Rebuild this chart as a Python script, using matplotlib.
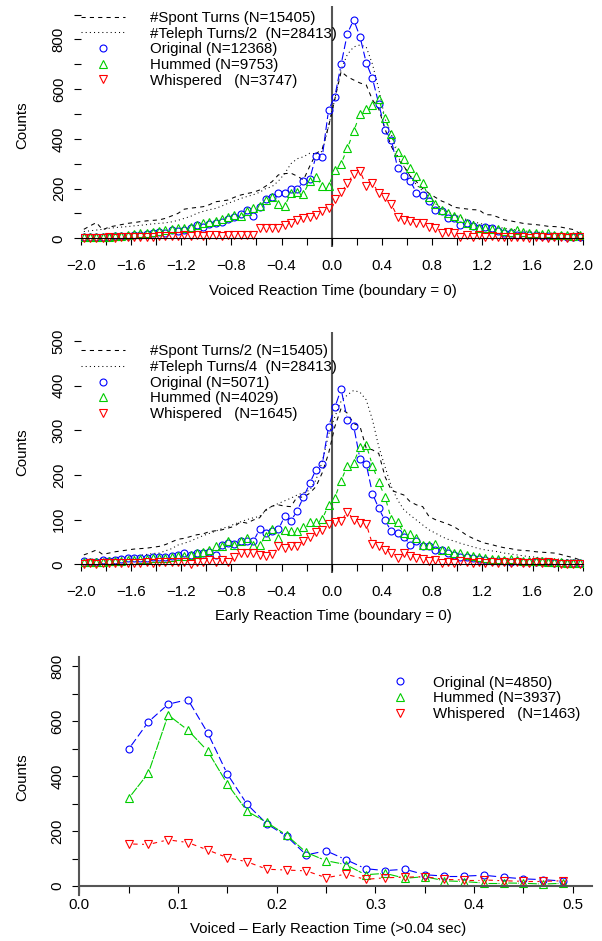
import numpy as np
import matplotlib
matplotlib.use('Agg')
from matplotlib import pyplot
from matplotlib.collections import LineCollection
from matplotlib.lines import Line2D

pyplot.rcParams['font.family'] = ['Liberation Sans', 'DejaVu Sans']
pyplot.rcParams['font.size'] = 10.8

FIG_W, FIG_H = 602, 941
BLUE, GREEN, RED, GREY = '#0000ff', '#00cd00', '#ff0000', '#555555'

# histogram bin centres (s), bins are 0.05 s wide
rt_bins = np.round(np.arange(-1.975, 2.0, 0.05), 3)

# top panel: voiced reaction time
voiced_spont = [36, 50, 63, 34, 45, 50, 55, 60, 63, 67,
                70, 72, 74, 80, 90, 100, 117, 121, 124, 127,
                135, 147, 150, 154, 165, 174, 180, 185, 194, 210,
                228, 255, 260, 262, 250, 235, 290, 340, 360, 450,
                560, 671, 650, 637, 625, 617, 557, 520, 440, 370,
                320, 290, 250, 228, 200, 181, 165, 150, 140, 125,
                121, 118, 115, 114, 95, 94, 85, 74, 70, 65,
                60, 57, 55, 52, 48, 47, 45, 40, 35, 20]
voiced_teleph = [27, 30, 33, 36, 40, 43, 45, 47, 50, 52,
                 55, 58, 60, 62, 66, 72, 80, 88, 100, 108,
                 115, 120, 130, 141, 150, 160, 168, 175, 185, 200,
                 208, 230, 260, 300, 320, 328, 342, 340, 350, 450,
                 560, 680, 740, 770, 778, 770, 700, 600, 480, 420,
                 330, 290, 250, 215, 190, 165, 140, 120, 105, 95,
                 85, 75, 68, 60, 55, 50, 45, 40, 36, 33,
                 30, 27, 25, 23, 21, 20, 18, 16, 15, 14]
voiced_original = [4, 4, 5, 6, 6, 8, 9, 10, 12, 14,
                   16, 20, 24, 22, 34, 30, 33, 40, 52, 47,
                   58, 63, 64, 76, 87, 98, 114, 90, 125, 157,
                   165, 181, 181, 197, 197, 230, 239, 331, 329, 516,
                   570, 700, 824, 879, 812, 707, 643, 541, 436, 396,
                   284, 251, 231, 184, 174, 149, 114, 109, 80, 80,
                   54, 63, 51, 40, 44, 43, 30, 20, 20, 15,
                   14, 12, 12, 10, 10, 8, 8, 6, 5, 5]
voiced_hummed = [4, 4, 4, 7, 7, 9, 11, 13, 16, 20,
                 23, 27, 31, 34, 36, 42, 40, 47, 55, 60,
                 67, 71, 78, 87, 94, 91, 108, 121, 130, 154,
                 167, 137, 130, 181, 188, 179, 230, 245, 210, 210,
                 275, 300, 362, 430, 500, 519, 537, 559, 483, 420,
                 349, 319, 282, 251, 221, 165, 138, 114, 101, 90,
                 80, 63, 54, 43, 40, 39, 36, 31, 27, 34,
                 27, 20, 20, 17, 20, 15, 15, 13, 11, 13]
voiced_whispered = [2, 2, 3, 3, 4, 3, 5, 4, 5, 6,
                    6, 7, 8, 8, 9, 10, 12, 8, 13, 9,
                    13, 13, 10, 13, 15, 13, 14, 14, 42, 43,
                    43, 43, 52, 60, 74, 80, 84, 95, 110, 121,
                    157, 185, 221, 259, 272, 211, 221, 184, 165, 138,
                    85, 74, 71, 63, 63, 47, 40, 23, 27, 20,
                    7, 13, 7, 13, 7, 10, 4, 7, 4, 4,
                    7, 0, 4, 4, 2, 4, 7, 2, 4, 4]
voiced_labels = ['#Spont Turns (N=15405)', '#Teleph Turns/2  (N=28413)',
                 'Original (N=12368)', 'Hummed (N=9753)',
                 'Whispered   (N=3747)']

# middle panel: early reaction time
early_spont = [21, 26, 32, 22, 25, 28, 30, 32, 34, 35,
               36, 38, 40, 44, 50, 56, 58, 62, 66, 68,
               73, 75, 77, 81, 85, 95, 92, 99, 104, 122,
               130, 133, 130, 129, 151, 150, 159, 174, 205, 248,
               308, 349, 338, 315, 309, 260, 256, 248, 196, 166,
               160, 155, 140, 133, 129, 107, 100, 95, 90, 84,
               75, 65, 58, 52, 47, 44, 40, 37, 35, 32,
               31, 30, 28, 27, 26, 25, 22, 18, 15, 10]
early_teleph = [10, 11, 12, 13, 14, 15, 16, 17, 18, 20,
                22, 24, 25, 30, 35, 43, 47, 52, 58, 64,
                69, 74, 80, 84, 90, 95, 100, 104, 107, 120,
                130, 136, 142, 148, 155, 160, 166, 189, 230, 290,
                330, 365, 379, 389, 385, 368, 323, 263, 218, 174,
                144, 122, 110, 99, 88, 77, 70, 62, 56, 52,
                47, 43, 39, 35, 32, 30, 28, 25, 23, 21,
                19, 17, 16, 14, 13, 12, 11, 10, 10, 10]
early_original = [8, 4, 6, 10, 8, 10, 11, 13, 13, 14,
                  13, 16, 16, 17, 19, 20, 25, 21, 26, 26,
                  28, 21, 43, 48, 45, 52, 52, 51, 78, 71,
                  75, 78, 107, 97, 120, 150, 181, 212, 224, 308,
                  351, 392, 323, 309, 236, 224, 158, 125, 98, 74,
                  69, 62, 43, 51, 40, 40, 32, 31, 25, 21,
                  16, 16, 13, 11, 10, 8, 7, 7, 6, 7,
                  6, 5, 4, 4, 4, 3, 3, 2, 2, 2]
early_hummed = [6, 4, 5, 6, 7, 8, 8, 9, 10, 11,
                12, 13, 14, 15, 16, 18, 19, 21, 25, 28,
                32, 40, 41, 53, 43, 51, 58, 43, 43, 63,
                79, 59, 77, 75, 75, 84, 95, 95, 101, 133,
                149, 187, 221, 227, 262, 267, 221, 183, 151, 101,
                95, 69, 68, 58, 42, 43, 45, 32, 31, 26,
                25, 21, 19, 16, 13, 11, 11, 10, 11, 10,
                8, 8, 8, 7, 6, 4, 4, 3, 3, 3]
early_whispered = [1, 2, 1, 2, 2, 3, 2, 3, 3, 3,
                   4, 3, 5, 4, 6, 4, 4, 1, 6, 4,
                   10, 6, 10, 4, 17, 25, 25, 25, 21, 19,
                   23, 40, 37, 41, 41, 53, 62, 73, 77, 89,
                   94, 96, 118, 99, 93, 90, 45, 40, 32, 25,
                   13, 25, 19, 14, 11, 8, 10, 2, 4, 2,
                   8, 4, 2, 4, 2, 4, 2, 4, 2, 4,
                   2, 2, 4, 2, 4, 2, 1, 1, 1, 1]
early_labels = ['#Spont Turns/2 (N=15405)', '#Teleph Turns/4  (N=28413)',
                'Original (N=5071)', 'Hummed (N=4029)',
                'Whispered   (N=1645)']

# bottom panel: voiced - early reaction time
diff_bins = [0.05, 0.07, 0.09, 0.11, 0.13, 0.15, 0.17, 0.19, 0.21, 0.23,
             0.25, 0.27, 0.29, 0.31, 0.33, 0.35, 0.37, 0.39, 0.41, 0.43,
             0.45, 0.47, 0.49]
diff_original = [498, 597, 661, 678, 557, 407, 297, 226, 181, 113, 128, 96,
                 63, 56, 61, 41, 36, 36, 39, 32, 26, 23, 18]
diff_hummed = [319, 411, 622, 567, 491, 371, 272, 231, 185, 122, 92, 78,
               41, 46, 28, 34, 19, 16, 11, 11, 10, 7, 10]
diff_whispered = [153, 151, 168, 158, 131, 103, 88, 61, 58, 55, 30, 43,
                  24, 30, 32, 34, 24, 22, 22, 19, 17, 17, 19]
diff_labels = ['Original (N=4850)', 'Hummed (N=3937)', 'Whispered   (N=1463)']

LONGDASH = (7, 3)
DASHED = (4, 4)


def add_axes_px(fig, left, top, right, bottom):
  """Adds axes whose data area is given in figure pixels."""
  return fig.add_axes([left/FIG_W, 1 - bottom/FIG_H,
                       (right - left)/FIG_W, (bottom - top)/FIG_H])


def gapped_line(ax, x, y, color, dashes, gap=4.5):
  """Joins points like R's type='b': segments stop short of the symbols."""
  pts = ax.transData.transform(np.column_stack([x, y]))
  inv = ax.transData.inverted()
  segs = []
  for p, q in zip(pts[:-1], pts[1:]):
    d = q - p
    length = np.hypot(d[0], d[1])
    if length <= 2*gap:
      continue
    u = d/length
    segs.append(inv.transform(np.array([p + gap*u, q - gap*u])))
  ax.add_collection(LineCollection(segs, colors=color, linewidths=0.8,
                                   linestyles=[(0, dashes)]))


def open_markers(ax, x, y, color, marker):
  size = 5.0 if marker == 'o' else 5.4
  ax.plot(x, y, linestyle='none', marker=marker, markersize=size,
          markerfacecolor='none', markeredgecolor=color, markeredgewidth=0.8)


def marker_handle(color, marker):
  size = 5.0 if marker == 'o' else 5.4
  return Line2D([], [], linestyle='none', marker=marker, markersize=size,
                markerfacecolor='none', markeredgecolor=color,
                markeredgewidth=0.8)


def plot_rt_panel(fig, top, bottom, legend_top, ymax, ylabel_every,
                  spont, teleph, original, hummed, whispered, labels):
  """Reaction time histograms around the turn boundary."""
  ax = add_axes_px(fig, 80.7, top, 582.7, bottom)
  ax.set_xlim(-2, 2)
  ax.set_ylim(-0.04*ymax, 1.04*ymax)
  ax.patch.set_visible(False)
  for side in ['top', 'right', 'left']:
    ax.spines[side].set_visible(False)
  ax.spines['bottom'].set_position(('data', 0))
  ax.spines['bottom'].set_bounds(-2, 2)
  ax.spines['bottom'].set_linewidth(0.8)
  xticks = [i/10 for i in range(-20, 21, 2)]
  ax.set_xticks(xticks)
  ax.set_xticklabels(['{:.1f}'.format(t).replace('-', '\u2212')
                      if round(t*10) % 4 == 0 else '' for t in xticks])
  yticks = list(range(0, ymax + 1, 100))
  ax.set_yticks(yticks)
  ax.set_yticklabels([str(v) if v % ylabel_every == 0 else '' for v in yticks],
                     rotation=90, va='center')
  ax.tick_params(direction='out', length=5.2, width=0.8)
  ax.tick_params(axis='x', pad=9.5)
  ax.tick_params(axis='y', pad=5.5)
  ax.axvline(0, color=GREY, linewidth=1.5, zorder=1)

  ax.plot(rt_bins, spont, color='black', linewidth=0.75,
          linestyle=(0, DASHED))
  ax.plot(rt_bins, teleph, color='black', linewidth=0.75,
          linestyle=(0, (1, 3)))
  for values, color, marker, dashes in [(original, BLUE, 'o', LONGDASH),
                                        (hummed, GREEN, '^', DASHED),
                                        (whispered, RED, 'v', DASHED)]:
    gapped_line(ax, rt_bins, values, color, dashes)
    open_markers(ax, rt_bins, values, color, marker)

  handles = [Line2D([], [], color='black', linewidth=0.75,
                    linestyle=(0, DASHED)),
             Line2D([], [], color='black', linewidth=0.75,
                    linestyle=(0, (1, 3))),
             marker_handle(BLUE, 'o'), marker_handle(GREEN, '^'),
             marker_handle(RED, 'v')]
  ax.legend(handles, labels, loc='upper left', frameon=False,
            bbox_to_anchor=(80.7/FIG_W, 1 - legend_top/FIG_H),
            bbox_transform=fig.transFigure, borderpad=0, borderaxespad=0,
            handlelength=2.95, handletextpad=1.7, labelspacing=0.11,
            numpoints=1)
  return ax


fig = pyplot.figure(figsize=(FIG_W/100, FIG_H/100), dpi=100)

plot_rt_panel(fig, 5.7, 247.2, 10.9, 900, 200, voiced_spont, voiced_teleph,
              voiced_original, voiced_hummed, voiced_whispered, voiced_labels)
fig.text(333/FIG_W, 1 - 291/FIG_H, 'Voiced Reaction Time (boundary = 0)',
         ha='center', va='center')
fig.text(22/FIG_W, 1 - 125/FIG_H, 'Counts', rotation=90,
         ha='center', va='center')

plot_rt_panel(fig, 331.9, 573.2, 344.5, 500, 100, early_spont, early_teleph,
              early_original, early_hummed, early_whispered, early_labels)
fig.text(333/FIG_W, 1 - 616/FIG_H, 'Early Reaction Time (boundary = 0)',
         ha='center', va='center')
fig.text(22/FIG_W, 1 - 452/FIG_H, 'Counts', rotation=90,
         ha='center', va='center')

# bottom panel
ax = add_axes_px(fig, 59.6, 657.2, 592.5, 894.8)
ax.set_xlim(-0.02, 0.52)
ax.set_ylim(-32, 832)
ax.patch.set_visible(False)
for side in ['top', 'right']:
  ax.spines[side].set_visible(False)
ax.spines['bottom'].set_position(('data', 0))
ax.spines['bottom'].set_bounds(0, 0.52)
ax.spines['left'].set_position(('data', 0))
ax.spines['left'].set_bounds(-32, 832)
for side in ['bottom', 'left']:
  ax.spines[side].set_color(GREY)
  ax.spines[side].set_linewidth(1.5)
xticks = [i/100 for i in range(0, 51, 5)]
ax.set_xticks(xticks)
ax.set_xticklabels(['{:.1f}'.format(t) if i % 2 == 0 else ''
                    for i, t in enumerate(xticks)])
yticks = list(range(0, 801, 100))
ax.set_yticks(yticks)
ax.set_yticklabels([str(v) if v % 200 == 0 else '' for v in yticks],
                   rotation=90, va='center')
ax.tick_params(direction='out', length=5.2, width=0.8, color='black')
ax.tick_params(axis='x', pad=3.5)
ax.tick_params(axis='y', pad=5.5)
for values, color, marker, dashes in [(diff_original, BLUE, 'o', LONGDASH),
                                      (diff_hummed, GREEN, '^', (8, 1)),
                                      (diff_whispered, RED, 'v', DASHED)]:
  gapped_line(ax, diff_bins, values, color, dashes)
  open_markers(ax, diff_bins, values, color, marker)
ax.legend([marker_handle(BLUE, 'o'), marker_handle(GREEN, '^'),
           marker_handle(RED, 'v')], diff_labels, loc='upper left',
          frameon=False, bbox_to_anchor=(386.5/FIG_W, 1 - 675.5/FIG_H),
          bbox_transform=fig.transFigure, borderpad=0, borderaxespad=0,
          handlelength=1.8, handletextpad=1.3, labelspacing=0.11,
          numpoints=1)
fig.text(328/FIG_W, 1 - 929/FIG_H,
         'Voiced \u2013 Early Reaction Time (>0.04 sec)',
         ha='center', va='center')
fig.text(22/FIG_W, 1 - 777/FIG_H, 'Counts', rotation=90,
         ha='center', va='center')

fig.savefig('out.png', dpi=100)
